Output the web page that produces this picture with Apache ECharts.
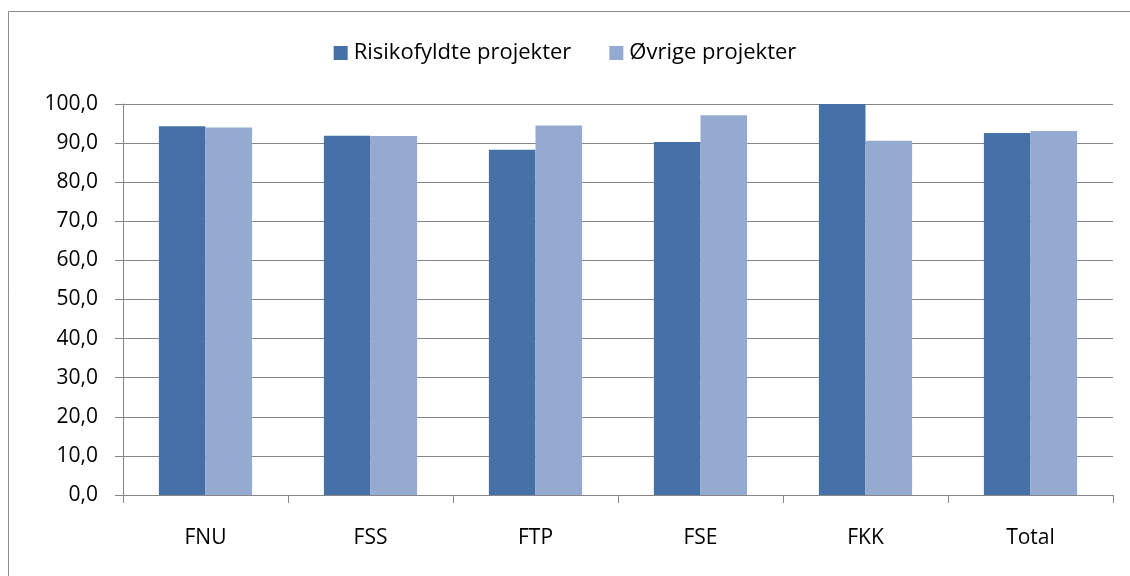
<!DOCTYPE html>
<html><head><meta charset="utf-8">
<script src="https://cdn.jsdelivr.net/npm/echarts@6/dist/echarts.min.js"></script>
<style>html,body{margin:0;padding:0;background:#fff}#c{width:1130px;height:576px}</style>
</head><body><div id="c"></div>
<script>
const categories = ["FNU", "FSS", "FTP", "FSE", "FKK", "Total"];
const seriesNames = ["Risikofyldte projekter", "Øvrige projekter"];
const risikofyldte = [94.3, 91.9, 88.3, 90.3, 100.0, 92.6];
const ovrige = [94.0, 91.8, 94.5, 97.1, 90.6, 93.1];

const FONT = "Open Sans";
const chart = echarts.init(document.getElementById('c'), null, {renderer: 'canvas'});
chart.setOption({
  animation: false,
  backgroundColor: '#fff',
  textStyle: {fontFamily: FONT},
  graphic: [{
    type: 'rect', z: -10, silent: true,
    shape: {x: 8.5, y: 11.5, width: 1200, height: 700},
    style: {fill: 'none', stroke: '#8c8c8c', lineWidth: 1}
  }],
  legend: {
    top: 37, left: 'center',
    itemWidth: 14, itemHeight: 14, itemGap: 38,
    icon: 'rect',
    textStyle: {fontFamily: FONT, fontSize: 22, color: '#000', padding: [0,0,0,1]},
    data: seriesNames
  },
  grid: {left: 123, right: 17, top: 104, bottom: 81, containLabel: false},
  xAxis: {
    type: 'category', data: categories,
    axisLine: {lineStyle: {color: '#868686', width: 1}},
    axisTick: {show: true, length: 8, lineStyle: {color: '#868686'}},
    axisLabel: {fontFamily: FONT, fontSize: 21, color: '#000', margin: 33}
  },
  yAxis: {
    type: 'value', min: 0, max: 100, interval: 10,
    axisLine: {show: true, lineStyle: {color: '#868686', width: 1}},
    axisTick: {show: true, length: 8, lineStyle: {color: '#868686'}},
    splitLine: {lineStyle: {color: '#868686', width: 1}},
    axisLabel: {fontFamily: FONT, fontSize: 21, color: '#000', margin: 25,
      formatter: v => v.toFixed(1).replace('.', ',')}
  },
  series: [
    {name: seriesNames[0], type: 'bar', data: risikofyldte, barGap: '0%', barCategoryGap: '43.5%',
     itemStyle: {color: '#4671A7'}},
    {name: seriesNames[1], type: 'bar', data: ovrige, barGap: '0%', barCategoryGap: '43.5%',
     itemStyle: {color: '#94AAD1'}}
  ]
});
</script></body></html>
